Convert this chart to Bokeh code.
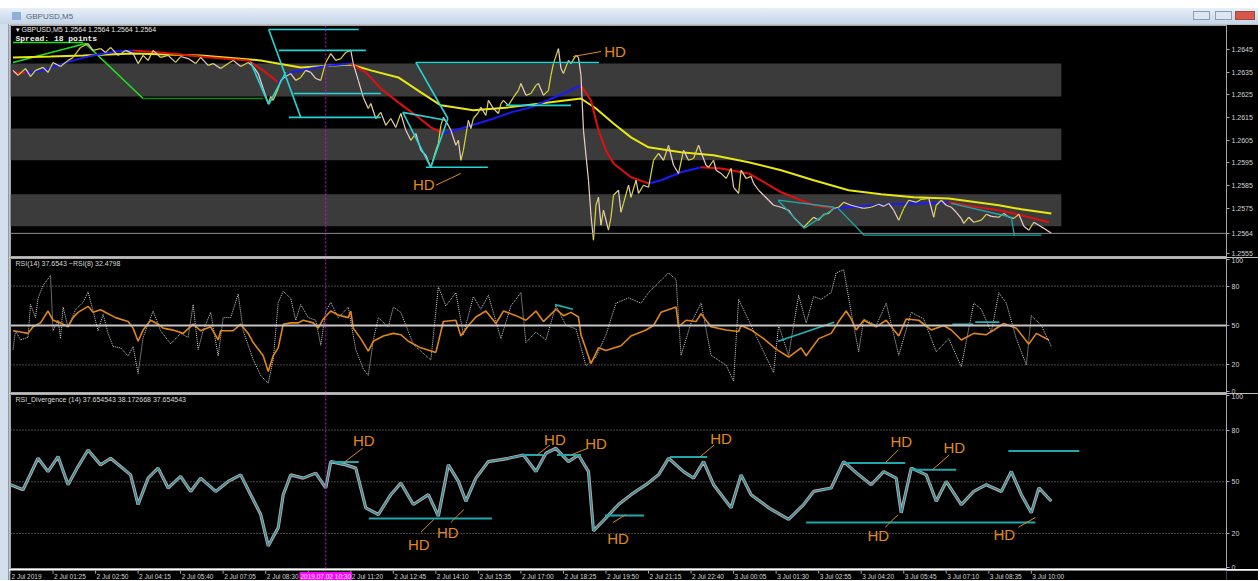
from bokeh.plotting import figure
from bokeh.models import Range1d, FixedTicker, PrintfTickFormatter, Span, Label, Div
from bokeh.layouts import column, row
from bokeh.embed import file_html
from bokeh.resources import INLINE
from bokeh.core.properties import value

FONT = "Liberation Sans"
FW = 1249  # figure width (right of the window's left frame strip)

# ---------------- data: GBPUSD M5 (bar index, price) ----------------
bars = [1, 3, 6, 8, 10, 13, 15, 17, 20, 23,
        25, 28, 31, 33, 36, 38, 40, 43, 46, 49,
        51, 53, 55, 57, 60, 63, 66, 68, 71, 74,
        76, 79, 81, 84, 87, 89, 92, 95, 97, 99,
        101, 103, 104, 105, 107, 108, 110, 112, 114, 116,
        118, 120, 122, 124, 126, 128, 130, 132, 134, 136,
        137, 139, 141, 143, 144, 146, 148, 150, 152, 154,
        156, 158, 160, 162, 164, 166, 168, 170, 171, 172,
        173, 175, 176, 178, 179, 180, 181, 183, 184, 185,
        187, 188, 190, 191, 193, 195, 196, 197, 199, 201,
        203, 204, 206, 208, 210, 211, 213, 215, 216, 217,
        219, 220, 221, 223, 224, 226, 227, 228, 229, 231,
        232, 233, 234, 235, 236, 237, 239, 240, 241, 243,
        244, 245, 247, 248, 250, 251, 253, 255, 257, 259,
        261, 263, 265, 267, 269, 271, 273, 275, 276, 278,
        279, 281, 282, 284, 286, 288, 289, 291, 292, 294,
        296, 297, 299, 301, 303, 305, 308, 311, 313, 315,
        317, 319, 321, 323, 325, 327, 329, 331, 333, 336,
        339, 341, 344, 347, 349, 351, 353, 355, 357, 359,
        362, 364, 367, 369, 370, 372, 374, 376, 378, 380,
        381, 383, 385, 388, 390, 392, 395, 397, 399, 401,
        403, 405, 407, 409, 411, 413, 416]
closes = [1.26358, 1.26336, 1.26366, 1.26331, 1.26358, 1.26371, 1.26349, 1.26393, 1.26375, 1.26402,
          1.26415, 1.26459, 1.26476, 1.26446, 1.26454, 1.26437, 1.26459, 1.26424, 1.26446, 1.26432,
          1.26388, 1.26424, 1.26402, 1.26446, 1.26415, 1.26424, 1.26393, 1.26419, 1.26410, 1.26388,
          1.26415, 1.26380, 1.26388, 1.26366, 1.26388, 1.26402, 1.26375, 1.26393, 1.26375, 1.26344,
          1.26278, 1.26212, 1.26243, 1.26226, 1.26278, 1.26314, 1.26331, 1.26344, 1.26314, 1.26327,
          1.26358, 1.26349, 1.26322, 1.26314, 1.26393, 1.26432, 1.26402, 1.26410, 1.26437, 1.26446,
          1.26388, 1.26314, 1.26239, 1.26190, 1.26212, 1.26146, 1.26173, 1.26116, 1.26146, 1.26107,
          1.26168, 1.26094, 1.26050, 1.26080, 1.26006, 1.25984, 1.25931, 1.26006, 1.26036, 1.26116,
          1.26151, 1.26116, 1.26094, 1.26028, 1.26050, 1.25962, 1.26006, 1.26138, 1.26102, 1.26146,
          1.26173, 1.26195, 1.26160, 1.26226, 1.26190, 1.26168, 1.26212, 1.26226, 1.26204, 1.26239,
          1.26270, 1.26300, 1.26248, 1.26256, 1.26292, 1.26300, 1.26248, 1.26270, 1.26336, 1.26388,
          1.26454, 1.26366, 1.26344, 1.26402, 1.26388, 1.26424, 1.26415, 1.26336, 1.26094, 1.25874,
          1.25720, 1.25610, 1.25764, 1.25799, 1.25676, 1.25742, 1.25654, 1.25711, 1.25808, 1.25830,
          1.25733, 1.25772, 1.25852, 1.25799, 1.25874, 1.25816, 1.25852, 1.25843, 1.25962, 1.25992,
          1.25962, 1.26028, 1.25940, 1.25904, 1.26006, 1.25962, 1.25970, 1.26028, 1.25997, 1.25940,
          1.25931, 1.25962, 1.25918, 1.25904, 1.25882, 1.25926, 1.25843, 1.25816, 1.25918, 1.25882,
          1.25891, 1.25860, 1.25830, 1.25808, 1.25786, 1.25764, 1.25755, 1.25742, 1.25711, 1.25689,
          1.25667, 1.25689, 1.25711, 1.25698, 1.25724, 1.25728, 1.25750, 1.25755, 1.25777, 1.25764,
          1.25755, 1.25750, 1.25755, 1.25768, 1.25759, 1.25772, 1.25742, 1.25698, 1.25750, 1.25786,
          1.25777, 1.25790, 1.25794, 1.25711, 1.25764, 1.25786, 1.25764, 1.25755, 1.25733, 1.25706,
          1.25684, 1.25711, 1.25689, 1.25698, 1.25724, 1.25715, 1.25711, 1.25728, 1.25711, 1.25706,
          1.25724, 1.25671, 1.25654, 1.25689, 1.25676, 1.25662, 1.25640]

ma_fast_bars = [1, 6, 13, 20, 25, 33, 42, 49, 60, 68, 80, 95, 101, 107, 112, 120, 128, 136, 142, 148,
                155, 162, 168, 173, 180, 191, 200, 208, 221, 228, 232, 235, 238, 241, 248, 255, 260, 268,
                276, 284, 295, 302, 308, 316, 321, 329, 340, 352, 364, 375, 384, 395, 404, 415]
ma_fast = [1.26349, 1.26347, 1.26358, 1.26384, 1.26402, 1.26424, 1.26441, 1.26446, 1.26437, 1.26428,
           1.26415, 1.26402, 1.26358, 1.26305, 1.26349, 1.26366, 1.26380, 1.26388, 1.26349, 1.26278,
           1.26217, 1.26160, 1.26107, 1.26080, 1.26102, 1.26138, 1.26173, 1.26195, 1.26256, 1.26292,
           1.26226, 1.26094, 1.26006, 1.25948, 1.25887, 1.25860, 1.25874, 1.25909, 1.25931, 1.25926,
           1.25904, 1.25860, 1.25821, 1.25786, 1.25764, 1.25750, 1.25759, 1.25768, 1.25772, 1.25777,
           1.25759, 1.25742, 1.25720, 1.25689]

ma_slow_bars = [1, 16, 29, 49, 76, 100, 116, 136, 144, 155, 164, 172, 185, 199, 215, 228, 234, 241,
                248, 255, 268, 281, 295, 308, 321, 335, 348, 361, 375, 395, 404, 416]
ma_slow = [1.26415, 1.26419, 1.26424, 1.26432, 1.26424, 1.26402, 1.26371, 1.26384, 1.26358, 1.26327,
           1.26261, 1.26204, 1.26182, 1.26195, 1.26217, 1.26234, 1.26190, 1.26124, 1.26063, 1.26019,
           1.25997, 1.25984, 1.25953, 1.25918, 1.25874, 1.25830, 1.25812, 1.25799, 1.25794, 1.25764,
           1.25746, 1.25728]

zz_bars = [1, 30, 53]
zz_price = [1.26393, 1.26476, 1.26234]
zz_flat_bars = [53, 101]
zz_flat_price = [1.26234, 1.26234]
zz_top_bars = [1, 29]
zz_top_price = [1.26481, 1.26481]

# trend / channel lines on price (bright cyan group, then dim teal group)
cy_x0 = [103.2, 103.2, 111.2, 107.2, 113.2, 96.0, 103.2, 162.0, 162.0, 156.8, 156.8, 168.0, 166.0, 198.0]
cy_y0 = [1.26538, 1.26538, 1.26151, 1.26446, 1.26256, 1.26393, 1.26208, 1.26393, 1.26393, 1.26173,
         1.26173, 1.25931, 1.25931, 1.26204]
cy_x1 = [139.2, 116.0, 148.0, 142.0, 148.0, 103.2, 110.0, 235.2, 174.8, 174.0, 168.0, 174.8, 190.8, 224.0]
cy_y1 = [1.26538, 1.26151, 1.26151, 1.26446, 1.26256, 1.26208, 1.26349, 1.26393, 1.26146, 1.26138,
         1.25931, 1.26146, 1.25931, 1.26204]
tl_x0 = [306.8, 317.2, 306.8, 330.8, 341.2, 376.0, 400.0]
tl_y0 = [1.25786, 1.25662, 1.25786, 1.25750, 1.25632, 1.25772, 1.25711]
tl_x1 = [317.2, 329.2, 329.2, 341.2, 412.0, 400.0, 401.2]
tl_y1 = [1.25662, 1.25750, 1.25755, 1.25632, 1.25632, 1.25711, 1.25632]

zone_lo = [1.26243, 1.25962, 1.25671]
zone_hi = [1.26388, 1.26102, 1.25812]
zone_end = 420
last_price = 1.25640

hd_main_x = [241.6, 165.2]
hd_main_y = [1.26441, 1.25856]
hd_main_lx0 = [224.8, 170.0]
hd_main_ly0 = [1.26419, 1.25852]
hd_main_lx1 = [236.0, 180.0]
hd_main_ly1 = [1.26441, 1.25904]

price_ticks = [1.2645, 1.2635, 1.2625, 1.2615, 1.2605, 1.2595, 1.2585, 1.2575, 1.2564, 1.2555]

# ---------------- RSI pane ----------------
rsi_bars = [1, 4, 7, 9, 12, 15, 17, 20, 23, 25, 27, 31, 33, 36, 39, 42, 47, 49, 51, 53,
            56, 59, 61, 65, 69, 73, 76, 80, 83, 84, 89, 92, 95, 97, 101, 103, 105, 107, 109, 112,
            115, 117, 121, 123, 125, 128, 131, 135, 136, 137, 140, 143, 145, 149, 153, 156, 159, 164, 170, 173,
            178, 180, 183, 186, 190, 194, 197, 202, 206, 210, 213, 218, 221, 224, 227, 228, 232, 235, 238, 244,
            248, 254, 257, 260, 266, 267, 270, 274, 276, 280, 286, 291, 292, 296, 301, 306, 311, 316, 318, 323,
            328, 331, 334, 336, 338, 341, 346, 350, 355, 358, 363, 368, 373, 376, 380, 385, 390, 393, 397, 402,
            407, 410, 415]
rsi = [46, 45, 44, 49, 52, 61, 54, 52, 49, 56, 60, 64.6, 60, 62, 59, 56, 53, 48, 38, 46.5,
       54, 51, 48, 46.5, 44, 51, 46, 49, 39, 46, 46, 51, 44, 37, 27, 15, 27, 33, 51, 52,
       52, 54, 52, 48, 55, 61, 58, 56, 61, 48, 40, 30.5, 38, 42, 44, 43, 38, 33, 29.5, 53,
       54, 42, 50, 56.5, 61, 51.5, 61, 57.5, 54, 61, 53, 62.4, 57.5, 60, 56.5, 43, 21, 33, 31, 34.6,
       42, 46.6, 50, 60, 64, 49, 54, 53, 59, 49, 46.6, 45.4, 50, 46.6, 40, 32, 26, 33, 27, 40,
       44, 53, 61, 55, 46.6, 54, 49, 54, 42, 55, 54, 46.6, 50, 46.6, 39, 44, 43, 46.6, 51.5, 48,
       35.8, 44, 39]

rsi2_bars = [1, 2, 4, 7, 8, 10, 11, 13, 16, 17, 19, 20, 21, 23, 26, 29, 31, 33, 35, 37,
             39, 41, 44, 47, 49, 51, 53, 55, 57, 60, 64, 68, 71, 73, 75, 77, 80, 83, 85, 88,
             91, 93, 97, 100, 103, 105, 107, 109, 112, 114, 116, 119, 122, 124, 126, 128, 131, 133, 135, 138,
             141, 143, 145, 147, 151, 153, 156, 161, 168, 171, 174, 178, 181, 185, 188, 191, 196, 200, 204, 206,
             210, 214, 218, 222, 226, 230, 234, 238, 242, 247, 252, 255, 259, 263, 266, 268, 272, 276, 280, 286,
             289, 291, 296, 301, 305, 307, 311, 315, 318, 321, 324, 328, 330, 333, 336, 339, 341, 346, 350, 355,
             360, 365, 370, 375, 380, 385, 388, 392, 395, 398, 402, 406, 408, 412, 416]
rsi2 = [31.7, 46, 39, 41, 66, 56, 70.7, 80.5, 88, 46, 54, 40, 64, 48.8, 62, 67.6, 75.6, 61, 46, 58.5,
        44, 34, 33, 26.8, 34, 13.4, 41, 51, 61, 46, 36, 44, 41, 66, 31.7, 46, 60, 26.8, 56, 56,
        74, 46, 24, 12, 6, 24, 67.6, 76, 70.7, 54, 66, 56, 54, 35, 61, 67.6, 56, 60, 64, 31.7,
        17, 12, 39, 56, 49, 64, 60, 35.6, 23.7, 79.5, 64.9, 75, 43, 72, 62.4, 73, 40, 65, 75, 37,
        45, 39, 65, 50, 47.5, 19.3, 26, 43, 67, 71, 67, 75, 82.5, 90, 85, 27.3, 52, 67, 27.3, 19.8,
        7.6, 70, 50, 30, 14.2, 50, 27.3, 73, 52, 72, 70, 75, 90, 92.5, 60, 30, 55, 50, 67, 27.3,
        60, 55, 30, 40, 18.6, 67, 62.4, 45, 75, 67, 40, 20, 57.5, 50, 34]

rsi_tl_x0 = [217.6, 306.8, 376.4, 385.6]
rsi_tl_y0 = [65.9, 38.0, 51.0, 52.6]
rsi_tl_x1 = [224.8, 329.2, 384.8, 395.2]
rsi_tl_y1 = [62.4, 52.5, 51.0, 52.6]

rsi_levels_dotted = [80, 20]
rsi_level_mid = 50
rsi_ticks = [0, 20, 50, 80, 100]

# ---------------- RSI_Divergence pane ----------------
div_bars = [0, 5, 11, 15, 19, 23, 27, 31, 36, 40, 44, 48, 51, 55, 59, 63, 68, 72, 76, 82,
            87, 92, 96, 100, 103, 107, 109, 112, 117, 122, 126, 128, 134, 138, 142, 147, 152, 156, 161, 167,
            171, 175, 179, 182, 186, 191, 199, 205, 210, 214, 218, 223, 227, 231, 233, 238, 243, 248, 254, 259,
            263, 269, 273, 277, 281, 288, 292, 296, 303, 311, 317, 321, 328, 333, 339, 344, 349, 354, 356, 360,
            366, 370, 374, 380, 385, 390, 396, 400, 404, 408, 411, 416]
div_vals = [48.3, 45.4, 63.6, 55.9, 64.6, 48.3, 58.8, 68.4, 59.8, 63.6, 58.8, 54.0, 36.8, 52.1, 57.9, 46.4,
            53.1, 44.4, 52.1, 44.4, 50.2, 54.0, 42.5, 31.0, 12.8, 23.4, 42.5, 54.0, 52.1, 55.0, 46.4, 61.7,
            59.8, 57.9, 34.9, 31.0, 42.5, 49.2, 36.8, 42.5, 30.1, 59.8, 50.2, 38.7, 52.1, 61.7, 63.6, 65.5,
            55.9, 66.5, 69.4, 61.7, 65.5, 55.9, 21.5, 29.1, 36.8, 42.5, 48.3, 54.0, 63.6, 55.9, 52.1, 61.7,
            48.3, 34.9, 54.0, 42.5, 34.9, 28.2, 36.8, 44.4, 46.4, 61.7, 54.0, 48.3, 55.9, 52.1, 32.0, 57.9,
            54.0, 38.7, 50.2, 36.8, 44.4, 48.3, 44.4, 55.9, 42.5, 32.0, 46.4, 38.7]

dv_x0 = [127.6, 143.2, 204.8, 218.4, 237.6, 263.6, 333.2, 360.4, 318.0, 398.8]
dv_x1 = [139.2, 192.4, 212.8, 228.0, 253.2, 278.4, 357.6, 378.0, 409.6, 427.2]
dv_y = [61.5, 28.7, 65.5, 65.5, 30.5, 64.4, 60.9, 56.9, 26.4, 67.8]

hd_div_x = [141.2, 163.2, 174.8, 217.6, 234.0, 242.8, 284.0, 356.0, 377.2, 346.8, 397.2]
hd_div_y = [74.1, 13.8, 20.7, 74.7, 72.4, 17.2, 75.3, 73.6, 70.1, 19.0, 19.5]
hd_div_lx0 = [133.6, 164.0, 176.0, 210.4, 224.0, 240.8, 275.6, 349.6, 368.4, 349.6, 402.8]
hd_div_ly0 = [61.5, 20.7, 26.4, 65.5, 65.5, 26.4, 64.4, 60.9, 56.9, 23.6, 23.6]
hd_div_lx1 = [140.8, 169.2, 181.2, 215.6, 230.8, 246.0, 281.2, 354.8, 375.2, 354.8, 409.6]
hd_div_ly1 = [69.5, 28.2, 33.9, 71.3, 69.5, 31.0, 71.3, 68.4, 65.5, 31.0, 29.3]

div_levels = [80, 50, 20]
div_ticks = [0, 20, 50, 80, 100]

time_ticks = [0, 17, 34, 51, 68, 85, 102, 119, 136, 153, 170, 187, 204, 221, 238, 255, 272,
              289, 306, 323, 340, 357, 374, 391, 408]
time_labels = ["2 Jul 2019", "2 Jul 01:25", "2 Jul 02:50", "2 Jul 04:15", "2 Jul 05:40", "2 Jul 07:05",
               "2 Jul 08:30", "", "2 Jul 11:20", "2 Jul 12:45", "2 Jul 14:10", "2 Jul 15:35",
               "2 Jul 17:00", "2 Jul 18:25", "2 Jul 19:50", "2 Jul 21:15", "2 Jul 22:40", "3 Jul 00:05",
               "3 Jul 01:30", "3 Jul 02:55", "3 Jul 04:20", "3 Jul 05:45", "3 Jul 07:10", "3 Jul 08:35",
               "3 Jul 10:00"]
cursor_bar = 126
cursor_label = "2019.07.02 10:30"

# ---------------- styling helpers ----------------
x_range = Range1d(0, 486)
AX = "#a8a8a8"
TXT = "#d4d4d4"
ORANGE = "#e08a1c"
HDFONT = "15px"


def base_fig(height, y_range, top_border=1, bottom_border=1):
    p = figure(width=FW, height=height, x_range=x_range, y_range=y_range,
               output_backend="svg", toolbar_location=None, tools="",
               y_axis_location="right", x_axis_location=None)
    p.background_fill_color = "#000000"
    p.border_fill_color = "#000000"
    p.outline_line_color = AX
    p.outline_line_width = 1
    p.xgrid.visible = False
    p.ygrid.visible = False
    p.min_border_left = 1
    p.min_border_right = 32
    p.min_border_top = top_border
    p.min_border_bottom = bottom_border
    for ax in p.yaxis:
        ax.axis_line_color = AX
        ax.major_tick_line_color = AX
        ax.minor_tick_line_color = None
        ax.major_tick_out = 3
        ax.major_tick_in = 0
        ax.major_label_standoff = 2
        ax.major_label_text_color = TXT
        ax.major_label_text_font = FONT
        ax.major_label_text_font_size = "7px"
    p.add_layout(Span(location=cursor_bar, dimension="height", line_color="#e000e0",
                      line_dash="2 2", line_width=1))
    return p


def seg_colors(vals, up, dn):
    return [up if vals[i + 1] > vals[i] else dn for i in range(len(vals) - 1)]


# ---------------- main price pane ----------------
pm = base_fig(233, Range1d(1.255381, 1.265557))
pm.yaxis.ticker = FixedTicker(ticks=price_ticks)
pm.yaxis.formatter = PrintfTickFormatter(format="%.4f")

pm.quad(left=[0] * len(zone_lo), right=[zone_end] * len(zone_lo), bottom=zone_lo, top=zone_hi,
        fill_color="#3b3b3b", line_color=None)
pm.add_layout(Span(location=last_price, dimension="width", line_color="#8c8c8c", line_width=1))

pm.line(zz_top_bars, zz_top_price, line_color="#20e020", line_width=1.5)
pm.line(zz_bars, zz_price, line_color="#20e020", line_width=1.5)
pm.line(zz_flat_bars, zz_flat_price, line_color="#0a8a0a", line_width=1.5)

pm.line(ma_slow_bars, ma_slow, line_color="#e8e810", line_width=2)
pm.segment(x0=ma_fast_bars[:-1], y0=ma_fast[:-1], x1=ma_fast_bars[1:], y1=ma_fast[1:],
           line_color=seg_colors(ma_fast, "#1a1aff", "#e01010"), line_width=2)

pm.segment(x0=bars[:-1], y0=closes[:-1], x1=bars[1:], y1=closes[1:],
           line_color=seg_colors(closes, "#d8d83a", "#f0cccc"), line_width=1.2)

pm.segment(x0=cy_x0, y0=cy_y0, x1=cy_x1, y1=cy_y1, line_color="#25d5d5", line_width=1.6)
pm.segment(x0=tl_x0, y0=tl_y0, x1=tl_x1, y1=tl_y1, line_color="#1ca8a8", line_width=1.3)

pm.segment(x0=hd_main_lx0, y0=hd_main_ly0, x1=hd_main_lx1, y1=hd_main_ly1,
           line_color=ORANGE, line_width=1)
pm.text(x=hd_main_x, y=hd_main_y, text=["HD"] * len(hd_main_x), text_font=value(FONT),
        text_font_size=value(HDFONT), text_color=ORANGE, text_align="center", text_baseline="middle")

pm.add_layout(Label(x=2, y=1.26553, text="\u25be GBPUSD,M5  1.2564 1.2564 1.2564 1.2564",
                    text_font=FONT, text_font_size="7px", text_color="#e6e6e6", text_baseline="top"))
pm.add_layout(Label(x=2, y=1.26520, text="Spread:  18 points", text_font="Liberation Mono",
                    text_font_style="bold", text_font_size="8px", text_color="#f0f0f0",
                    text_baseline="top"))

# ---------------- RSI pane ----------------
pr = base_fig(136, Range1d(-1, 101))
pr.yaxis.ticker = FixedTicker(ticks=rsi_ticks)
for lv in rsi_levels_dotted:
    pr.add_layout(Span(location=lv, dimension="width", line_color="#8a8a8a", line_dash="1 2",
                       line_width=1))
pr.add_layout(Span(location=rsi_level_mid, dimension="width", line_color="#c4c4c4", line_width=2))
pr.line(rsi2_bars, rsi2, line_color="#cfcfcf", line_dash="1 1", line_width=1)
pr.line(rsi_bars, rsi, line_color="#e0861a", line_width=1.6)
pr.segment(x0=rsi_tl_x0, y0=rsi_tl_y0, x1=rsi_tl_x1, y1=rsi_tl_y1, line_color="#1fb5b5",
           line_width=1.6)
pr.add_layout(Label(x=2, y=100, text="RSI(14) 37.6543   ~RSI(8) 32.4798", text_font=FONT,
                    text_font_size="7px", text_color="#d8d8d8", text_baseline="top"))

# ---------------- RSI_Divergence pane ----------------
pd_ = base_fig(176, Range1d(-0.3, 100.6))
pd_.yaxis.ticker = FixedTicker(ticks=div_ticks)
for lv in div_levels:
    pd_.add_layout(Span(location=lv, dimension="width", line_color="#8a8a8a", line_dash="1 2",
                        line_width=1))
pd_.line(div_bars, div_vals, line_color="#c9a3aa", line_width=3.2)
pd_.line(div_bars, div_vals, line_color="#1f9599", line_width=1.4)
pd_.segment(x0=dv_x0, y0=dv_y, x1=dv_x1, y1=dv_y, line_color="#1fa9ad", line_width=2)
pd_.segment(x0=hd_div_lx0, y0=hd_div_ly0, x1=hd_div_lx1, y1=hd_div_ly1, line_color=ORANGE,
            line_width=1)
pd_.text(x=hd_div_x, y=hd_div_y, text=["HD"] * len(hd_div_x), text_font=value(FONT),
         text_font_size=value(HDFONT), text_color=ORANGE, text_align="center",
         text_baseline="middle")
pd_.add_layout(Label(x=2, y=100, text="RSI_Divergence (14) 37.654543 38.172668 37.654543",
                     text_font=FONT, text_font_size="7px", text_color="#d8d8d8", text_baseline="top"))

# ---------------- time scale strip ----------------
pt = figure(width=FW, height=11, x_range=x_range, y_range=Range1d(0, 1),
            output_backend="svg", toolbar_location=None, tools="",
            x_axis_location=None, y_axis_location=None)
pt.background_fill_color = "#000000"
pt.border_fill_color = "#000000"
pt.outline_line_color = None
pt.xgrid.visible = False
pt.ygrid.visible = False
pt.min_border_left = 1
pt.min_border_right = 32
pt.min_border_top = 0
pt.min_border_bottom = 0
pt.segment(x0=time_ticks, y0=[1] * len(time_ticks), x1=time_ticks, y1=[0.72] * len(time_ticks),
           line_color=AX, line_width=1)
pt.text(x=time_ticks, y=[0.42] * len(time_ticks), text=time_labels, text_font=value(FONT),
        text_font_size=value("6.5px"), text_color=TXT, text_align="left", text_baseline="middle",
        x_offset=1)
pt.rect(x=[cursor_bar], y=[0.42], width=21, height=0.9, fill_color="#ff00ff", line_color=None)
pt.text(x=[cursor_bar], y=[0.42], text=[cursor_label], text_font=value(FONT),
        text_font_size=value("6.5px"), text_color="#ffffff", text_align="center",
        text_baseline="middle")

# ---------------- window chrome ----------------
top_gap = Div(text="", width=1258, height=8, margin=(0, 0, 0, 0))
title_html = (
    '<div style="position:relative;width:1258px;height:16px;overflow:hidden;'
    'background:linear-gradient(#e8f0f9,#c4d4e8);font-family:\'Liberation Sans\';">'
    '<span style="position:absolute;left:12px;top:4px;width:9px;height:8px;background:#8fb0d8;"></span>'
    '<span style="position:absolute;left:26px;top:3px;font-size:8px;color:#56667a;">GBPUSD,M5</span>'
    '<span style="position:absolute;right:48px;top:3px;width:17px;height:9px;border:1px solid #8c9db2;'
    'background:#dde6f0;"></span>'
    '<span style="position:absolute;right:26px;top:3px;width:17px;height:9px;border:1px solid #8c9db2;'
    'background:#dde6f0;"></span>'
    '<span style="position:absolute;right:3px;top:3px;width:20px;height:9px;border:1px solid #9a4a40;'
    'background:#d8574a;"></span>'
    '</div>'
)
title = Div(text=title_html, width=1258, height=16, margin=(0, 0, 0, 0))
strip = Div(text='<div style="width:9px;height:556px;background:#d3dfec;'
                 'border-right:1px solid #8a9ab0;box-sizing:border-box;"></div>',
            width=9, height=556, margin=(0, 0, 0, 0))

panes = column(pm, pr, pd_, pt, spacing=0)
layout = column(top_gap, title, row(strip, panes, spacing=0), spacing=0)
open("out.html", "w").write(file_html(layout, INLINE))
